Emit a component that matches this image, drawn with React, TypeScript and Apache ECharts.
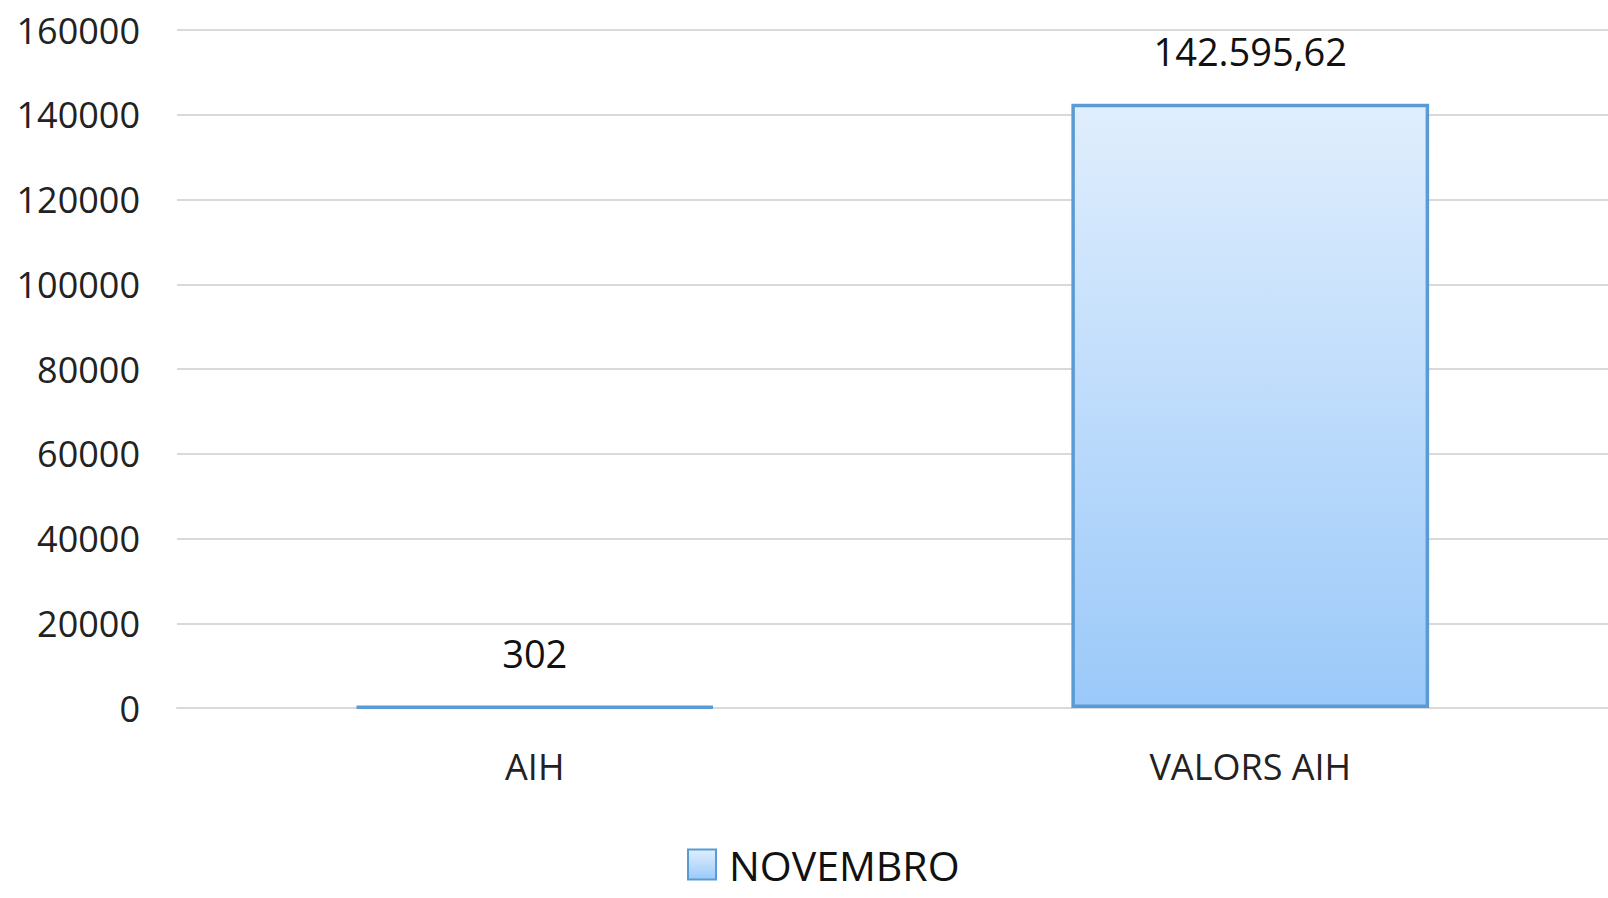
import React, { useEffect, useRef } from "react";
import * as echarts from "echarts";

const categories = ["AIH", "VALORS AIH"];
const seriesName = "NOVEMBRO";
const values = [302, 142595.62];
const valueLabels = ["302", "142.595,62"];
const yTicks = { min: 0, max: 160000, interval: 20000 };

const FONT = "'Open Sans', 'Noto Sans', sans-serif";

export default function App() {
  const ref = useRef<HTMLDivElement>(null);
  useEffect(() => {
    document.body.style.margin = "0";
    if (!ref.current) return;
    const chart = echarts.init(ref.current, undefined, { renderer: "svg" });
    const fill = new echarts.graphic.LinearGradient(0, 0, 0, 1, [
      { offset: 0, color: "#e0eefd" },
      { offset: 1, color: "#9bc9f9" },
    ]);
    chart.setOption({
      animation: false,
      backgroundColor: "#ffffff",
      textStyle: { fontFamily: FONT },
      grid: { left: 177, right: 0, top: 30, bottom: 190, containLabel: false },
      legend: {
        top: 844,
        left: 687,
        padding: 0,
        itemWidth: 28,
        itemHeight: 30,
        itemGap: 10,
        data: [{ name: seriesName, icon: "rect" }],
        textStyle: {
          fontSize: 41,
          lineHeight: 40,
          color: "#111",
          fontFamily: FONT,
          padding: [0, 0, 0, 8],
        },
      },
      xAxis: {
        type: "category",
        data: categories,
        axisLine: { show: true, lineStyle: { color: "#d9d9d9", width: 2 } },
        axisTick: { show: false },
        axisLabel: { fontSize: 36, color: "#222", margin: 40, fontFamily: FONT },
      },
      yAxis: {
        type: "value",
        min: yTicks.min,
        max: yTicks.max,
        interval: yTicks.interval,
        axisLine: { show: false },
        axisTick: { show: false },
        splitLine: { lineStyle: { color: "#d9d9d9", width: 2 } },
        axisLabel: {
          fontSize: 36,
          color: "#222",
          margin: 37,
          fontFamily: FONT,
          formatter: (v: number) => String(v),
        },
      },
      series: [
        {
          name: seriesName,
          type: "bar",
          barWidth: "50%",
          data: values,
          itemStyle: { color: fill, borderColor: "#5b9bd5", borderWidth: 3.5 },
          label: {
            show: true,
            position: "top",
            distance: 34,
            fontSize: 38,
            color: "#111",
            fontFamily: FONT,
            formatter: (p: any) => valueLabels[p.dataIndex],
          },
        },
      ],
    });
    return () => chart.dispose();
  }, []);
  return <div ref={ref} style={{ width: 1608, height: 898 }} />;
}
